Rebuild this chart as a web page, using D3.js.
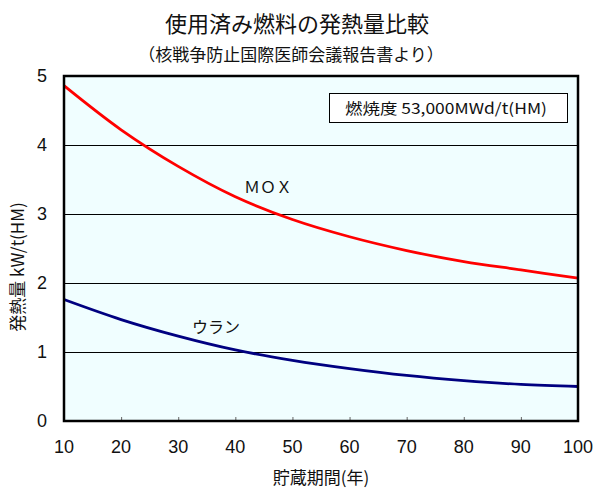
<!DOCTYPE html>
<html><head><meta charset="utf-8">
<script src="https://cdn.jsdelivr.net/npm/d3@7/dist/d3.min.js"></script>
<style>body{margin:0;background:#fff;}svg{display:block;}</style>
</head><body>
<svg id="c" width="596" height="490"></svg>
<script>
const years = [10, 20, 30, 40, 50, 60, 70, 80, 90, 100];
const moxValues = [4.86, 4.22, 3.69, 3.25, 2.92, 2.67, 2.47, 2.31, 2.19, 2.07];
const uraniumValues = [1.76, 1.47, 1.23, 1.03, 0.88, 0.76, 0.66, 0.585, 0.53, 0.50];
const xTicks = [10, 20, 30, 40, 50, 60, 70, 80, 90, 100];
const yTicks = [0, 1, 2, 3, 4, 5];
const title = "使用済み燃料の発熱量比較";
const subtitle = "（核戦争防止国際医師会議報告書より）";
const xTitle = "貯蔵期間(年)";
const yTitle = "発熱量 kW/t(HM)";
const noteText = "燃焼度 53,000MWd/t(HM)";
const moxLabel = "ＭＯＸ";
const uraniumLabel = "ウラン";

const svg = d3.select("#c");
const L = 64, R = 578, T = 76, B = 421;
const x = d3.scaleLinear().domain([10, 100]).range([L, R]);
const y = d3.scaleLinear().domain([0, 5]).range([B, T]);
const jp = "'Noto Sans CJK JP', 'Noto Sans', sans-serif";
const lat = "'Liberation Sans', Arial, sans-serif";

svg.append("rect").attr("x", L).attr("y", T).attr("width", R - L).attr("height", B - T)
  .attr("fill", "#F0FEFF");

// gridlines
svg.append("g").selectAll("line").data(yTicks.filter(d => d > 0 && d < 5)).join("line")
  .attr("x1", L).attr("x2", R).attr("y1", d => y(d)).attr("y2", d => y(d))
  .attr("stroke", "#000").attr("stroke-width", 1).attr("shape-rendering", "crispEdges");

// x tick marks (inside)
const xAxis = d3.axisTop(x).tickValues(xTicks).tickSize(4).tickFormat("");
const gx = svg.append("g").attr("transform", `translate(0,${B})`).call(xAxis);
gx.select(".domain").remove();
gx.selectAll("line").attr("stroke", "#666");

// x tick labels
svg.append("g").selectAll("text").data(xTicks).join("text")
  .attr("x", d => x(d)).attr("y", 453).attr("text-anchor", "middle")
  .attr("font-family", lat).attr("font-size", 18).attr("fill", "#111").text(d => d);

// y tick labels
svg.append("g").selectAll("text").data(yTicks).join("text")
  .attr("x", 42).attr("y", d => y(d) + 6).attr("text-anchor", "middle")
  .attr("font-family", lat).attr("font-size", 18).attr("fill", "#111").text(d => d);

// lines
const line = d3.line().x((d, i) => x(years[i])).y(d => y(d)).curve(d3.curveCatmullRom.alpha(0.5));
svg.append("path").datum(moxValues).attr("d", line).attr("fill", "none")
  .attr("stroke", "#FF0000").attr("stroke-width", 2.8);
svg.append("path").datum(uraniumValues).attr("d", line).attr("fill", "none")
  .attr("stroke", "#000080").attr("stroke-width", 2.8);

// border
svg.append("rect").attr("x", L).attr("y", T).attr("width", R - L).attr("height", B - T)
  .attr("fill", "none").attr("stroke", "#000").attr("stroke-width", 2.5);

// note box
svg.append("rect").attr("x", 329.5).attr("y", 93.5).attr("width", 238).attr("height", 29)
  .attr("fill", "#fff").attr("stroke", "#000").attr("stroke-width", 1);
svg.append("text").attr("x", 446).attr("y", 114).attr("text-anchor", "middle")
  .attr("font-family", jp).attr("font-size", 15).attr("textLength", 202)
  .attr("lengthAdjust", "spacingAndGlyphs").attr("fill", "#111").text(noteText);

// series labels
svg.append("text").attr("x", 268).attr("y", 193).attr("text-anchor", "middle")
  .attr("font-family", jp).attr("font-size", 16).attr("fill", "#111").text(moxLabel);
svg.append("text").attr("x", 216).attr("y", 333).attr("text-anchor", "middle")
  .attr("font-family", jp).attr("font-size", 16).attr("fill", "#111").text(uraniumLabel);

// titles
svg.append("text").attr("x", 297).attr("y", 32).attr("text-anchor", "middle")
  .attr("font-family", jp).attr("font-size", 22).attr("font-weight", 400).attr("fill", "#111").text(title);
svg.append("text").attr("x", 291).attr("y", 61).attr("text-anchor", "middle")
  .attr("font-family", jp).attr("font-size", 17).attr("fill", "#111").text(subtitle);
svg.append("text").attr("x", 321).attr("y", 484).attr("text-anchor", "middle")
  .attr("font-family", jp).attr("font-size", 17).attr("fill", "#111").text(xTitle);
svg.append("text").attr("transform", "translate(24,267) rotate(-90)").attr("text-anchor", "middle")
  .attr("font-family", jp).attr("font-size", 17).attr("fill", "#111").text(yTitle);
</script>
</body></html>
